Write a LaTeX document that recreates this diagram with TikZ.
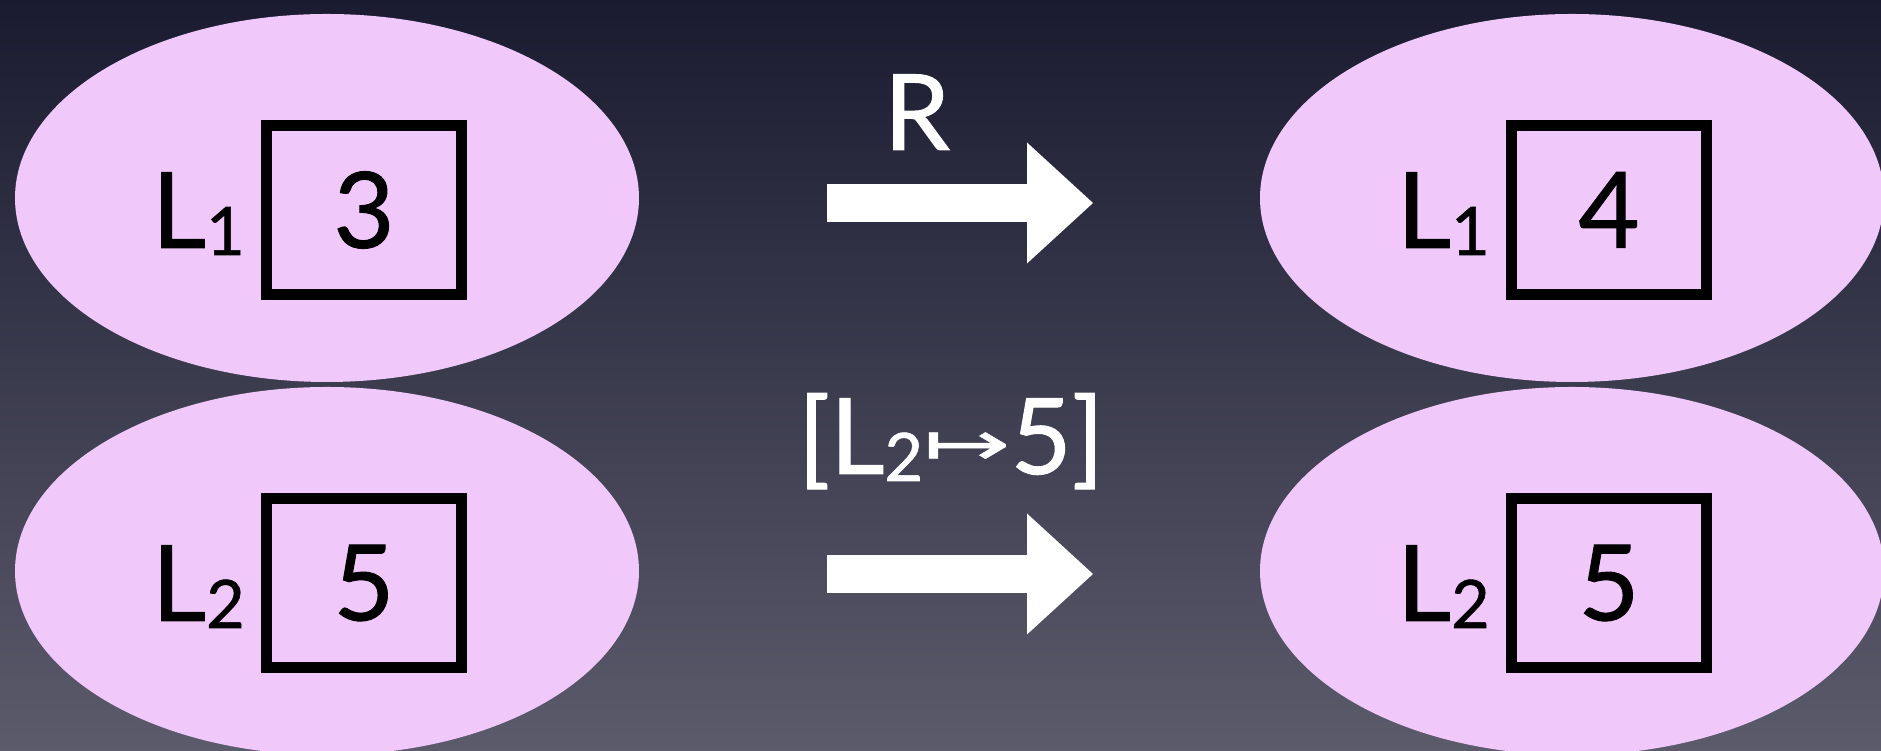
\documentclass[tikz,border=0pt]{standalone}
\usepackage{fontspec}
\setmainfont{Lato}[FakeBold=0.9]
\newfontfamily\arrowfont{DejaVu Sans}[FakeBold=0.5]
\usetikzlibrary{arrows.meta,positioning,calc,shapes.geometric}
\definecolor{bgtop}{RGB}{26,27,48}
\definecolor{bgbottom}{RGB}{92,91,108}
\definecolor{blob}{RGB}{240,200,250}
\newcommand{\subs}[1]{\raisebox{-0.07cm}{\fontsize{19}{19}\selectfont #1}}
\tikzset{
    store/.style={ellipse,fill=blob,minimum width=6.24cm,minimum height=3.68cm,inner sep=0pt},
    cell/.style={draw,line width=1.05mm,minimum width=1.95cm,minimum height=1.69cm,inner sep=0pt},
    loc/.style={anchor=base west,inner sep=0pt,text=black},
    steplabel/.style={anchor=base,inner sep=0pt,text=white},
    bigarrow/.style={white,line width=3.8mm,-{Triangle[length=6.6mm,width=12.1mm,line width=0pt]}}
}

\begin{document}
\begin{tikzpicture}[every node/.style={font=\fontsize{30}{36}\selectfont}]
    % background
    \shade[top color=bgtop,bottom color=bgbottom] (0,0) rectangle (18.81,7.51);
    \useasboundingbox (0,0) rectangle (18.81,7.51);

    % stores before and after the step
    \foreach \n/\x/\y/\l/\v in {a/3.27/5.53/1/3,b/3.27/1.80/2/5,c/15.72/5.53/1/4,d/15.72/1.80/2/5} {
        \node[store] (s\n) at (\x,\y) {};
        \node[cell] (c\n) at ($(s\n)+(0.37,-0.12)$) {\v};
        \node[loc] (l\n) at ($(c\n.west)+(-1.10,-0.38)$) {L\subs{\l}};
    }

    % steps
    \coordinate (r1) at (8.27,5.48);
    \coordinate (r2) at (10.93,5.48);
    \coordinate (u1) at (8.27,1.77);
    \coordinate (u2) at (10.93,1.77);
    \draw[bigarrow] (r1) -- (r2);
    \draw[bigarrow] (u1) -- (u2);
    \node[steplabel] (rl) at (9.17,6.01) {R};
    \node[steplabel] (ul) at (9.51,2.77) {[L\subs{2}\raisebox{0.09cm}{\scalebox{1.35}[0.8]{\arrowfont\fontsize{22}{22}\selectfont ↦}}5]};
\end{tikzpicture}
\end{document}
